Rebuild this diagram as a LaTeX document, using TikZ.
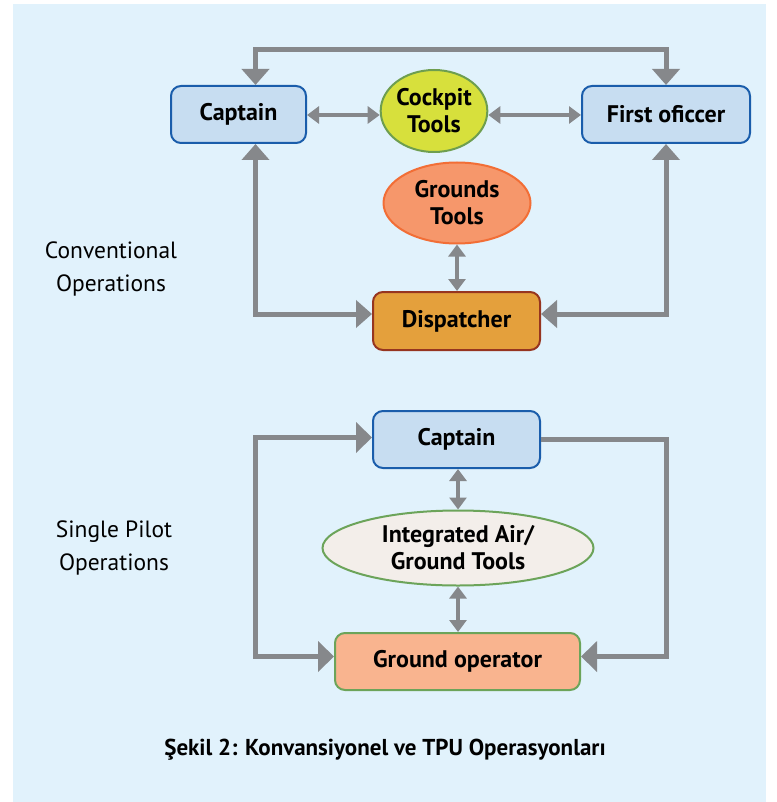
\documentclass[tikz,border=0pt]{standalone}
\usepackage{fontspec}
\setmainfont{PT Sans}
\usepackage{xcolor}
\usetikzlibrary{arrows.meta, positioning, calc, shapes.geometric}

\definecolor{bgblue}{HTML}{E1F2FC}
\definecolor{capfill}{HTML}{C7DDF1}
\definecolor{capline}{HTML}{1A5DAB}
\definecolor{cockfill}{HTML}{D7E03C}
\definecolor{cockline}{HTML}{6E9E4F}
\definecolor{grfill}{HTML}{F6976B}
\definecolor{grline}{HTML}{F26E36}
\definecolor{dispfill}{HTML}{E4A03C}
\definecolor{displine}{HTML}{963520}
\definecolor{intfill}{HTML}{F3EEEA}
\definecolor{gopfill}{HTML}{F9B48F}
\definecolor{greenline}{HTML}{6CA45A}
\definecolor{arrowgray}{HTML}{86888B}

\begin{document}
\begin{tikzpicture}[x=1pt, y=-1pt,
      box/.style={rectangle, rounded corners=10pt, line width=2pt, inner sep=0pt,
        font=\fontsize{24}{27}\selectfont\bfseries, align=center},
      tool/.style={ellipse, line width=2pt, inner sep=0pt,
        font=\fontsize{24}{27}\selectfont\bfseries, align=center},
      loopline/.style={draw=arrowgray, line width=5pt},
      linkline/.style={draw=arrowgray, line width=4pt,
        {Triangle[width=17pt, length=12pt]}-{Triangle[width=17pt, length=12pt]}},
      side/.style={font=\fontsize{23.5}{33}\selectfont, align=center}
    ]
    % Background
    \useasboundingbox (0,0) rectangle (776,802);
    \fill[bgblue] (13,4) rectangle (766,802);

    % Conventional operations
    \node[box, draw=capline, fill=capfill, minimum width=135pt, minimum height=57pt] (capA) at (238.5,114.5) {Captain};
    \node[tool, draw=cockline, fill=cockfill, minimum width=98pt, minimum height=82pt] (cockpit) at (434,111) {Cockpit\\Tools};
    \node[box, draw=capline, fill=capfill, minimum width=168pt, minimum height=57pt] (foA) at (666,114.5) {First oficcer};
    \node[tool, draw=grline, fill=grfill, minimum width=147pt, minimum height=81pt] (ground) at (457,203) {Grounds\\Tools};
    \node[box, draw=displine, fill=dispfill, minimum width=167pt, minimum height=58pt] (disp) at (456.5,321) {Dispatcher};

    % Single pilot operations
    \node[box, draw=capline, fill=capfill, minimum width=167pt, minimum height=57pt] (capB) at (456.5,439.5) {Captain};
    \node[tool, draw=greenline, fill=intfill, minimum width=271pt, minimum height=75pt] (integ) at (458,548) {Integrated Air/\\Ground Tools};
    \node[box, draw=greenline, fill=gopfill, minimum width=245pt, minimum height=57pt] (gop) at (457.5,661.5) {Ground operator};

    % Rail points
    \coordinate (railT) at (460,50);
    \coordinate (railL) at (255,550);
    \coordinate (railR) at (666,550);

    % Loops
    \draw[loopline, arrows={Triangle[width=27pt, length=16pt]-Triangle[width=27pt, length=16pt]}]
      ([xshift=17pt]capA.north) |- (railT) -| (foA.north);
    \draw[loopline, arrows={Triangle[width=27pt, length=16pt]-Triangle[width=27pt, length=16pt]}]
      ([xshift=17pt]capA.south) |- ([yshift=7pt]disp.west);
    \draw[loopline, arrows={Triangle[width=27pt, length=16pt]-Triangle[width=27pt, length=16pt]}]
      (foA.south) |- ([yshift=7pt]disp.east);
    \draw[loopline, arrows={Triangle[width=30pt, length=16pt]-Triangle[width=30pt, length=16pt]}]
      ([yshift=2pt]capB.west) -| (railL) |- ([yshift=5pt]gop.west);
    \draw[loopline, arrows={-Triangle[width=30pt, length=16pt]}]
      (capB.east) -| (railR) |- ([yshift=5pt]gop.east);

    % Links
    \draw[linkline] (capA.east |- 0,115) -- (cockpit.west |- 0,115);
    \draw[linkline] (cockpit.east |- 0,115) -- (foA.west |- 0,115);
    \draw[linkline] (ground.south) -- (ground.south |- disp.north);
    \draw[linkline] (capB.south -| integ.north) -- (integ.north);
    \draw[linkline] (integ.south) -- (integ.south |- gop.north);

    % Labels
    \node[side] (conv) at (111,269) {Conventional\\Operations};
    \node[side] (single) at (114,548) {Single Pilot\\Operations};
    \node[font=\fontsize{23}{27}\selectfont\bfseries] (caption) at (385,750) {Şekil 2: Konvansiyonel ve TPU Operasyonları};
  \end{tikzpicture}
\end{document}
